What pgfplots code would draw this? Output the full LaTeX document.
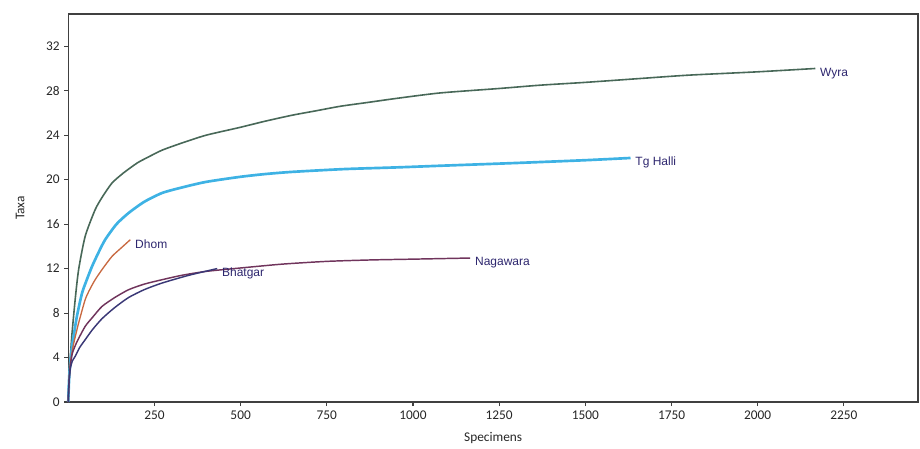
\documentclass[border=0pt]{standalone}
\usepackage{fontspec}
\setmainfont{Carlito}
\newfontfamily\labfont{Liberation Sans}
\usepackage{pgfplots}
\pgfplotsset{compat=1.18}
\definecolor{wyra}{RGB}{72,104,88}
\definecolor{tghalli}{RGB}{62,178,228}
\definecolor{dhom}{RGB}{200,105,65}
\definecolor{nagawara}{RGB}{112,52,92}
\definecolor{bhatgar}{RGB}{58,56,118}
\definecolor{labcol}{RGB}{45,38,110}
\begin{document}
\begin{tikzpicture}
\begin{axis}[name=ax, scale only axis, width=637.3pt, height=291pt,
  xmin=0, xmax=2465, ymin=0, ymax=34.9,
  xtick={250,500,...,2250}, ytick={0,4,...,32},
  tick align=outside, xtick pos=bottom, ytick pos=left,
  major tick length=3pt,
  axis line style={draw=black!75, line width=1pt},
  every tick/.style={draw=black!75, line width=0.8pt},
  /pgf/number format/assume math mode=true,
  /pgf/number format/1000 sep={},
  tick label style={font=\fontsize{10}{12}\selectfont, text=black!85},
  label style={font=\fontsize{10}{12}\selectfont, text=black!85},
  xlabel={Specimens}, ylabel={Taxa},
  xlabel style={at={(axis description cs:0.5,-0.093)}, anchor=center},
  ylabel style={at={(axis description cs:-0.0565,0.5)}, anchor=center},
  clip=false,
  every axis plot/.append style={line join=round, smooth, tension=0.4},
]
% Wyra
\addplot[wyra, line width=1.2pt] coordinates {(0,0)(1,1)(2,2)(4,3.2)(6,4.1)(11,6.2)(20,9.2)(30,11.9)(49,14.9)(78,17.3)(100,18.5)(127,19.7)(160,20.6)(200,21.5)(230,22.0)(272,22.65)(330,23.3)(400,24.0)(498,24.7)(570,25.25)(650,25.8)(720,26.2)(789,26.6)(870,26.95)(950,27.3)(1079,27.8)(1250,28.2)(1370,28.5)(1500,28.75)(1660,29.1)(1800,29.4)(2000,29.7)(2167,30.0)};
% Tg Halli
\addplot[tghalli, line width=2pt] coordinates {(0,0)(1,1)(3,2.4)(6,3.6)(11,5.0)(16,6.0)(25,7.7)(40,9.8)(55,11.1)(69,12.2)(87,13.4)(107,14.6)(140,16.0)(175,17.0)(220,18.0)(272,18.8)(330,19.3)(400,19.8)(498,20.25)(570,20.5)(650,20.7)(800,20.95)(950,21.1)(1079,21.25)(1300,21.5)(1500,21.75)(1631,21.95)};
% Dhom
\addplot[dhom, line width=1pt] coordinates {(0,0)(1,1)(3,2.3)(6,3.5)(10,4.3)(16,5.3)(30,7.1)(49,9.2)(62,10.1)(78,11.0)(100,12.0)(127,13.1)(155,13.9)(180,14.6)};
% Nagawara
\addplot[nagawara, line width=1.1pt] coordinates {(0,0)(1,1)(3,2.2)(6,3.3)(12,4.4)(25,5.4)(49,6.8)(70,7.6)(98,8.6)(135,9.4)(175,10.1)(220,10.6)(272,11.0)(330,11.4)(400,11.75)(498,12.05)(620,12.4)(750,12.65)(880,12.78)(1000,12.85)(1166,12.95)};
% Bhatgar
\addplot[bhatgar, line width=1.1pt] coordinates {(0,0)(1,1)(3,2.1)(6,3.0)(12,3.7)(20,4.1)(33,4.9)(49,5.6)(70,6.5)(98,7.5)(135,8.5)(175,9.4)(220,10.1)(272,10.7)(350,11.4)(432,12.0)};
\begin{scope}[every node/.style={anchor=west, inner sep=0pt, xshift=3.5pt, yshift=-3.5pt, text=labcol, font=\labfont\fontsize{9}{11}\selectfont}]
\node at (axis cs:2167,30.0) {Wyra};
\node at (axis cs:1631,21.95) {Tg Halli};
\node at (axis cs:180,14.6) {Dhom};
\node at (axis cs:1166,12.95) {Nagawara};
\node at (axis cs:432,12.0) {Bhatgar};
\end{scope}
\end{axis}
\pgfresetboundingbox
\path[use as bounding box] ([xshift=-51.2pt,yshift=-34.5pt]ax.south west) rectangle ([xshift=1.5pt,yshift=10.5pt]ax.north east);
\end{tikzpicture}
\end{document}
